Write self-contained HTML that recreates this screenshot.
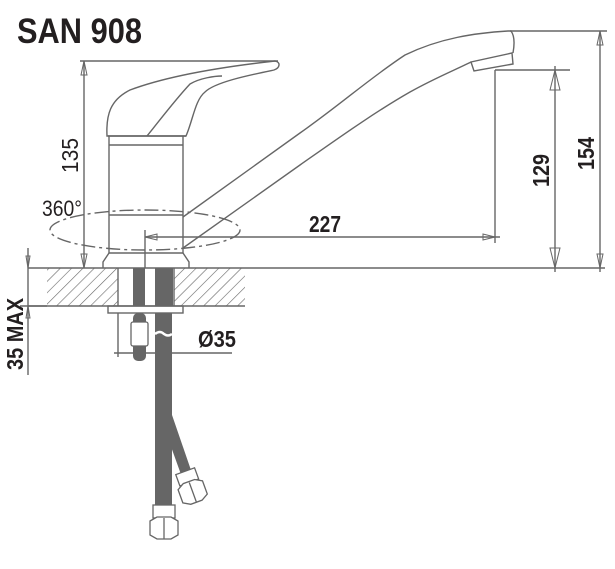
<!DOCTYPE html>
<html><head><meta charset="utf-8"><style>
body{margin:0;background:#fff}
svg{display:block}
text{font-family:"Liberation Sans",sans-serif;font-weight:bold;fill:#231f20}
</style></head><body>
<svg width="615" height="569" viewBox="0 0 615 569" xmlns="http://www.w3.org/2000/svg">
<defs>
<pattern id="h" width="8" height="8" patternUnits="userSpaceOnUse" patternTransform="rotate(45)">
<rect width="8" height="8" fill="#fff"/><line x1="0" y1="0" x2="0" y2="8" stroke="#666" stroke-width="1.2"/>
</pattern>
</defs>
<text x="17" y="43" font-size="35" textLength="125" lengthAdjust="spacingAndGlyphs">SAN 908</text>
<g fill="none" stroke="#666" stroke-width="1.4">
<rect x="47" y="268" width="71" height="38" fill="url(#h)" stroke="none"/>
<rect x="174" y="268" width="71" height="38" fill="url(#h)" stroke="none"/>
<line x1="28" y1="268" x2="605" y2="268"/>
<line x1="28" y1="306" x2="245" y2="306"/>
<line x1="118" y1="268" x2="118" y2="306"/>
<line x1="174" y1="268" x2="174" y2="306"/>
<path d="M107,136 C106,115 110,100 130,90 C170,75 230,66 275,61 C281,62 280,68 274,70 C250,75 215,82 205,92 C195,100 193,120 186,136 Z"/>
<path d="M147,136 C160,120 175,100 190,84 C200,78 215,76 222,76"/>
<line x1="108" y1="136" x2="186" y2="136"/>
<path d="M109,136 L109,253 L183,253 L183,136"/>
<line x1="109" y1="145" x2="183" y2="145"/>
<line x1="109" y1="215" x2="183" y2="215"/>
<path d="M109,253 L103,262 L103,268 M183,253 L189,262 L189,268"/>
<path d="M183,217 L300,133 C340,105 370,78 405,55 C440,38 475,33 508,31 L511,31 C514,35 515,42 513,53"/>
<path d="M183,248 L300,165 C340,137 375,112 410,92 C435,78 455,70 471,62"/>
<path d="M471,62 L474,71 L513,64 L512,53 Z"/>
<ellipse cx="145" cy="230" rx="95" ry="20" stroke-dasharray="14,4,3,4"/>
<line x1="80" y1="61" x2="278" y2="61"/>
<line x1="84" y1="61" x2="84" y2="268"/>
<path d="M84,61 l-3,14 h6 z M84,268 l-3,-14 h6 z" stroke-width="1"/>
<line x1="510" y1="31" x2="607" y2="31"/>
<line x1="600" y1="31" x2="600" y2="272"/>
<path d="M600,31 l-3,14 h6 z M600,268 l-3,-14 h6 z" stroke-width="1"/>
<line x1="495" y1="70" x2="570" y2="70"/>
<line x1="555" y1="66" x2="555" y2="272"/>
<path d="M555,70 l-5,20 h10 z M555,268 l-5,-20 h10 z" stroke-width="1"/>
<line x1="495" y1="70" x2="495" y2="243"/>
<line x1="145" y1="237" x2="500" y2="237"/>
<path d="M495,237 l-12,-3 v6 z M145,237 l12,-3 v6 z" stroke-width="1"/>
<line x1="145" y1="230" x2="145" y2="268"/>
<line x1="28" y1="248" x2="28" y2="375"/>
<path d="M28,268 l-2,-12 h4 z M28,306 l-2,12 h4 z" stroke-width="1"/>
<line x1="20" y1="306" x2="47" y2="306"/>
<rect x="108" y="306" width="75" height="7"/>
<line x1="118" y1="313" x2="118" y2="357"/>
<line x1="114" y1="353" x2="232" y2="353"/>
</g>
<g fill="#666">
<rect x="133" y="268" width="12" height="38"/>
<rect x="155" y="268" width="18" height="38"/>
<rect x="133" y="313" width="13" height="48" rx="5"/>
<rect x="155" y="313" width="17" height="195"/>
<path d="M172,415 L193,476 L183,480 L165,430 Z"/>
</g>
<g fill="#fff" stroke="#666" stroke-width="1.3">
<rect x="131" y="322" width="17" height="24" rx="2"/>
<rect x="153" y="505" width="22" height="13"/>
<path d="M150,521 L157,517 L171,517 L178,521 L178,535 L171,539 L157,539 L150,535 Z"/>
<line x1="164" y1="518" x2="164" y2="539"/>
<g transform="rotate(-20 192 490)">
<rect x="182" y="470" width="20" height="12"/>
<path d="M179,485 L186,481 L198,481 L205,485 L205,499 L198,503 L186,503 L179,499 Z"/>
<line x1="192" y1="482" x2="192" y2="503"/>
</g>
</g>
<path d="M155,334 q5,-4 9,0 q4,3 8,0" fill="none" stroke="#fff" stroke-width="2.5"/>
<text x="42" y="216" font-size="22" style="font-weight:normal" textLength="40" lengthAdjust="spacingAndGlyphs">360°</text>
<text x="309" y="232" font-size="23" textLength="32" lengthAdjust="spacingAndGlyphs">227</text>
<text x="198" y="347" font-size="23" textLength="38" lengthAdjust="spacingAndGlyphs">Ø35</text>
<text transform="translate(78,173) rotate(-90)" font-size="23" style="font-weight:normal" textLength="35" lengthAdjust="spacingAndGlyphs">135</text>
<text transform="translate(549,187) rotate(-90)" font-size="23" textLength="33" lengthAdjust="spacingAndGlyphs">129</text>
<text transform="translate(594,170) rotate(-90)" font-size="23" textLength="33" lengthAdjust="spacingAndGlyphs">154</text>
<text transform="translate(23,370) rotate(-90)" font-size="23" textLength="72" lengthAdjust="spacingAndGlyphs">35 MAX</text>
</svg>
</body></html>
